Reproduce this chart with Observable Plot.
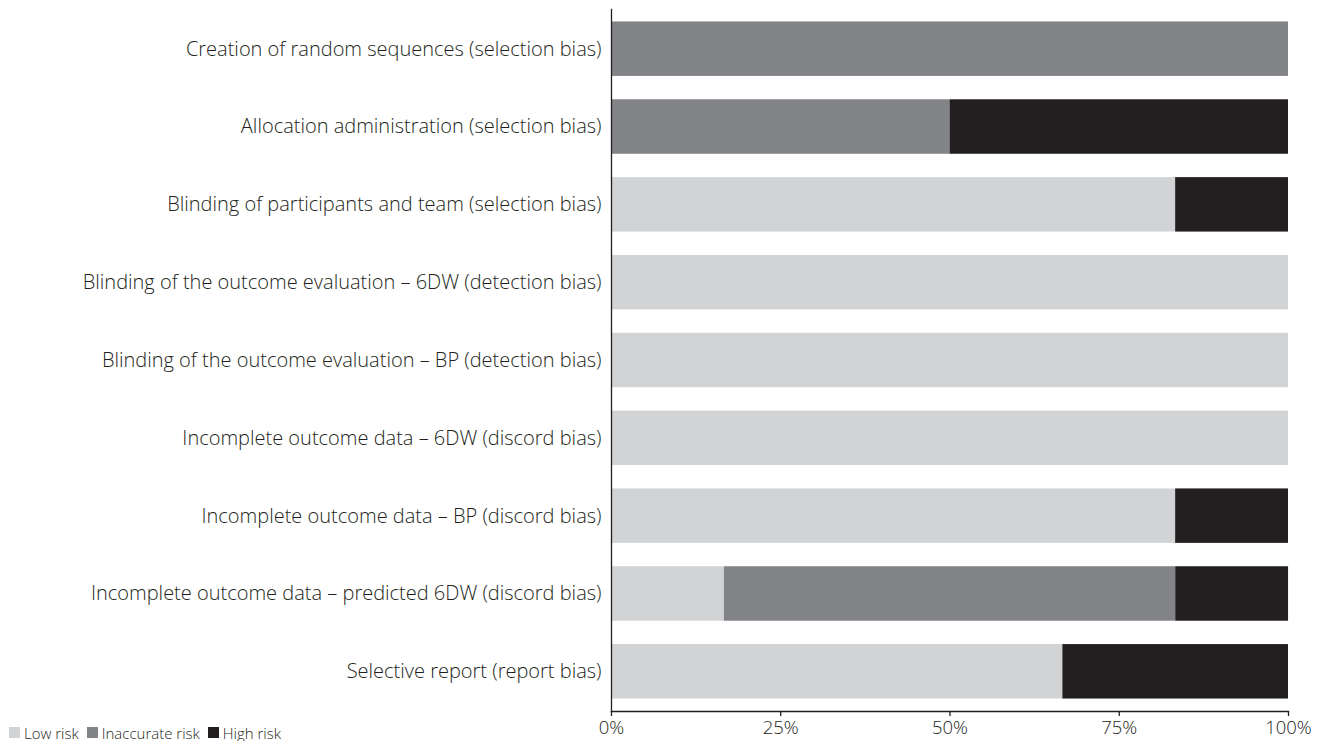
<!DOCTYPE html>
<html>
<head>
<meta charset="utf-8">
<script src="https://cdn.jsdelivr.net/npm/d3@7"></script>
<script src="https://cdn.jsdelivr.net/npm/@observablehq/plot@0.6"></script>
<style>
  html, body { margin: 0; padding: 0; background: #fff; }
  #wrap { position: relative; width: 1322px; height: 741px; font-family: "Open Sans", Lato, sans-serif; font-weight: 300; }
  #legend { position: absolute; left: 9px; top: 722px; height: 21px; font-size: 15px; color: #231f20; display: flex; align-items: center; }
  #legend .item { display: flex; align-items: center; margin-right: 8px; }
  #legend .sw { width: 11px; height: 11px; margin-right: 4px; }
</style>
</head>
<body>
<div id="wrap"><div id="chart"></div><div id="legend"></div></div>
<script>
const categories = [
  "Creation of random sequences (selection bias)",
  "Allocation administration (selection bias)",
  "Blinding of participants and team (selection bias)",
  "Blinding of the outcome evaluation – 6DW (detection bias)",
  "Blinding of the outcome evaluation – BP (detection bias)",
  "Incomplete outcome data – 6DW (discord bias)",
  "Incomplete outcome data – BP (discord bias)",
  "Incomplete outcome data – predicted 6DW (discord bias)",
  "Selective report (report bias)"
];
const riskLevels = ["Low risk", "Inaccurate risk", "High risk"];
const riskColors = ["#d1d3d4", "#838487", "#231f20"];
const lowRisk =        [0,   0,  83.33, 100, 100, 100, 83.33, 16.67, 66.67];
const inaccurateRisk = [100, 50, 0,     0,   0,   0,   0,     66.67, 0];
const highRisk =       [0,   50, 16.67, 0,   0,   0,   16.67, 16.67, 33.33];
const xTicks = [0, 25, 50, 75, 100];

const series = [lowRisk, inaccurateRisk, highRisk];
const data = [];
categories.forEach((c, i) => {
  riskLevels.forEach((r, j) => {
    data.push({category: c, risk: r, value: series[j][i]});
  });
});

const ink = "#231f20";
const chart = Plot.plot({
  width: 1322,
  height: 741,
  marginLeft: 611,
  marginRight: 34,
  marginTop: 9,
  marginBottom: 30,
  style: {fontFamily: "'Open Sans', Lato, sans-serif", fontWeight: 300, color: ink, background: "#fff"},
  x: {domain: [0, 100], label: null},
  y: {domain: categories, paddingInner: 0.3, paddingOuter: 0.16, round: false, label: null},
  color: {domain: riskLevels, range: riskColors},
  marks: [
    Plot.barX(data, Plot.stackX({x: "value", y: "category", fill: "risk", order: riskLevels})),
    Plot.axisY({tickSize: 0, tickPadding: 10, fontSize: 20, fill: ink, label: null}),
    Plot.axisX({ticks: xTicks, tickFormat: d => d + "%", tickSize: 5, tickPadding: 4, fontSize: 18.5, fill: ink, stroke: ink, strokeWidth: 1.3, label: null}),
    Plot.frame({anchor: "left", stroke: ink, strokeWidth: 1.3}),
    Plot.frame({anchor: "bottom", stroke: ink, strokeWidth: 1.3})
  ]
});
document.getElementById("chart").appendChild(chart);

const legend = document.getElementById("legend");
riskLevels.forEach((r, j) => {
  const item = document.createElement("div");
  item.className = "item";
  const sw = document.createElement("div");
  sw.className = "sw";
  sw.style.background = riskColors[j];
  const t = document.createElement("span");
  t.textContent = r;
  item.appendChild(sw);
  item.appendChild(t);
  legend.appendChild(item);
});
</script>
</body>
</html>
